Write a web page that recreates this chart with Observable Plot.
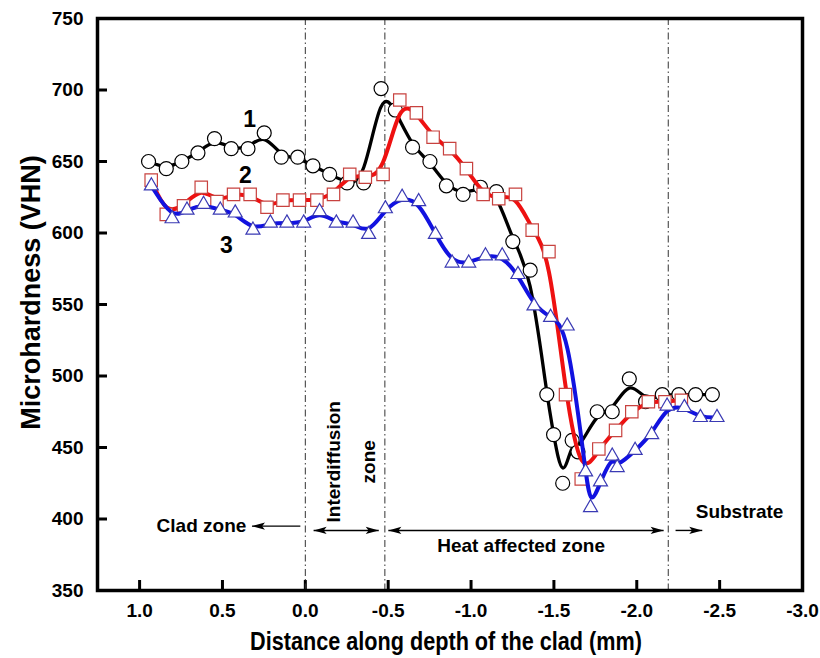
<!DOCTYPE html>
<html>
<head>
<meta charset="utf-8">
<script src="https://cdn.jsdelivr.net/npm/d3@7"></script>
<script src="https://cdn.jsdelivr.net/npm/@observablehq/plot@0.6"></script>
<style>
  html, body { margin: 0; padding: 0; background: white; }
</style>
</head>
<body>
<div id="chart"></div>
<script>
// ---- Data ----
const xTicks = [1.0, 0.5, 0.0, -0.5, -1.0, -1.5, -2.0, -2.5, -3.0];
const yTicks = [350, 400, 450, 500, 550, 600, 650, 700, 750];

// Series 1 (open circles, black line)
const s1X = [0.946, 0.839, 0.745, 0.648, 0.548, 0.447, 0.346, 0.248, 0.145, 0.046,
  -0.046, -0.147, -0.252, -0.352, -0.457, -0.543, -0.647, -0.752, -0.851, -0.952,
  -1.057, -1.153, -1.252, -1.357, -1.457, -1.498, -1.553, -1.61, -1.645, -1.761,
  -1.852, -1.955, -2.053, -2.154, -2.254, -2.355, -2.456];
const s1Y = [650, 645, 650, 656, 666, 659, 659, 670, 653, 653,
  647, 641, 635, 635, 701, 686, 660, 650, 633, 627,
  632, 629, 594, 574, 487, 459, 425, 455, 447, 475,
  475, 498, 482, 487, 487, 487, 487];

// Series 2 (open squares, red line)
const s2X = [0.93, 0.839, 0.735, 0.628, 0.533, 0.433, 0.333, 0.231, 0.135, 0.035,
  -0.07, -0.17, -0.268, -0.362, -0.469, -0.57, -0.67, -0.771, -0.871, -0.972,
  -1.073, -1.167, -1.268, -1.369, -1.47, -1.57, -1.665, -1.771, -1.872, -1.97,
  -2.07, -2.17, -2.269];
const s2Y = [637, 613, 619, 632, 622, 627, 627, 618, 623, 623,
  623, 627, 641, 639, 641, 693, 684, 667, 659, 645,
  627, 624, 627, 602, 587, 487, 428, 449, 462, 475,
  482, 482, 483];

// Series 3 (open triangles, blue line)
const s3X = [0.929, 0.804, 0.714, 0.614, 0.513, 0.423, 0.316, 0.211, 0.111, 0.01,
  -0.086, -0.187, -0.288, -0.382, -0.483, -0.584, -0.684, -0.785, -0.886, -0.986,
  -1.087, -1.188, -1.283, -1.38, -1.48, -1.58, -1.691, -1.721, -1.781, -1.852,
  -1.882, -1.99, -2.09, -2.183, -2.287, -2.384, -2.484];
const s3Y = [633, 610, 616, 620, 616, 614, 602, 607, 607, 607,
  615, 607, 607, 599, 617, 625, 622, 599, 579, 579,
  584, 584, 571, 549, 541, 535, 433, 408, 426, 444,
  436, 448, 459, 479, 478, 471, 471];

// Zone boundaries (dash-dot vertical lines)
const zoneBounds = [0.0, -0.48, -2.19];

// Series labels
const seriesLabels = ["1", "2", "3"];
const seriesLabelX = [0.336, 0.362, 0.477];
const seriesLabelY = [679, 640, 591];

// Zone annotations
const cladText = ["Clad zone"];
const cladTextX = [0.356];
const cladTextY = [395];
const zoneTexts = ["Heat affected zone", "Substrate"];
const zoneTextX = [-1.302, -2.62];
const zoneTextY = [381, 405];
const interTexts = ["Interdiffusion", "zone"];
const interTextX = [-0.171, -0.382];
const interTextY = [440, 440];

// Arrow shafts and heads
const shaftX1 = [0.03, -0.05, -0.501, -2.234];
const shaftX2 = [0.322, -0.443, -2.162, -2.395];
const shaftY = [395, 392, 392, 392];
const headX = [0.322, -0.05, -0.443, -0.501, -2.162, -2.395];
const headY = [395, 392, 392, 392, 392, 392];
const headDir = ["left", "left", "right", "left", "right", "right"];

const xTitle = "Distance along depth of the clad (mm)";
const yTitle = "Microhardness (VHN)";

// ---- Build tables ----
const s1 = s1X.map((x, i) => ({x, y: s1Y[i]}));
const s2 = s2X.map((x, i) => ({x, y: s2Y[i]}));
const s3 = s3X.map((x, i) => ({x, y: s3Y[i]}));
const labels = seriesLabels.map((t, i) => ({t, x: seriesLabelX[i], y: seriesLabelY[i]}));
const clad = cladText.map((t, i) => ({t, x: cladTextX[i], y: cladTextY[i]}));
const zones = zoneTexts.map((t, i) => ({t, x: zoneTextX[i], y: zoneTextY[i]}));
const inter = interTexts.map((t, i) => ({t, x: interTextX[i], y: interTextY[i]}));
const shafts = shaftX1.map((x1, i) => ({x1, x2: shaftX2[i], y: shaftY[i]}));
const heads = headX.map((x, i) => ({x, y: headY[i], dir: headDir[i]}));

const W = 820, H = 658, ML = 97, MR = 18, MT = 18, MB = 68;
const plotW = W - ML - MR, plotH = H - MT - MB;

const headShape = {
  draw(context, l) {
    const w = 3.6;
    context.moveTo(0, -l);
    context.lineTo(w, 0);
    context.lineTo(0, -l * 0.22);
    context.lineTo(-w, 0);
    context.closePath();
  }
};

const font = "Arial, 'Liberation Sans', Helvetica, sans-serif";

const chart = Plot.plot({
  width: W,
  height: H,
  marginLeft: ML,
  marginRight: MR,
  marginTop: MT,
  marginBottom: MB,
  style: {fontFamily: font, fontWeight: "bold", fontSize: "19px", background: "white", color: "black", overflow: "visible"},
  x: {domain: [1.254, -3.0]},
  y: {domain: [350, 750]},
  marks: [
    Plot.axisX(xTicks, {tickSize: 0, tickPadding: 13, tickFormat: d => d.toFixed(1), fontSize: 19, fontWeight: "bold", label: null}),
    Plot.axisY(yTicks, {tickSize: 0, tickPadding: 14, tickFormat: d => String(d), fontSize: 19, fontWeight: "bold", label: null}),
    Plot.tickX(xTicks, {x: d => d, insetTop: plotH - 10, strokeWidth: 3, stroke: "black"}),
    Plot.tickY(yTicks, {y: d => d, insetRight: plotW - 10, strokeWidth: 3, stroke: "black"}),
    Plot.ruleX(zoneBounds, {x: d => d, stroke: "#333", strokeWidth: 1, strokeDasharray: "7,3,1.5,3"}),
    // series 1
    Plot.line(s1, {x: "x", y: "y", curve: "basis", stroke: "black", strokeWidth: 3.3}),
    Plot.dot(s1, {x: "x", y: "y", r: 7, fill: "white", stroke: "black", strokeWidth: 1.2}),
    // series 2
    Plot.line(s2, {x: "x", y: "y", curve: "basis", stroke: "#ee1111", strokeWidth: 4}),
    Plot.dot(s2, {x: "x", y: "y", symbol: "square", r: 7, fill: "white", stroke: "#c8423f", strokeWidth: 1.2}),
    // series 3
    Plot.line(s3, {x: "x", y: "y", curve: "basis", stroke: "#1212e0", strokeWidth: 4}),
    Plot.dot(s3, {x: "x", y: "y", symbol: "triangle", r: 5.2, fill: "white", stroke: "#3a3ab4", strokeWidth: 1.2}),
    // labels
    Plot.text(labels, {x: "x", y: "y", text: "t", fontSize: 23, fontWeight: "bold", fill: "black"}),
    Plot.text(clad, {x: "x", y: "y", text: "t", textAnchor: "end", fontSize: 19, fontWeight: "bold", fill: "black"}),
    Plot.text(zones, {x: "x", y: "y", text: "t", textAnchor: "middle", fontSize: 19, fontWeight: "bold", fill: "black"}),
    Plot.text(inter, {x: "x", y: "y", text: "t", rotate: -90, textAnchor: "middle", fontSize: 19, fontWeight: "bold", fill: "black"}),
    Plot.link(shafts, {x1: "x1", x2: "x2", y1: "y", y2: "y", stroke: "black", strokeWidth: 1.4}),
    Plot.vector(heads, {x: "x", y: "y", rotate: d => d.dir === "left" ? -90 : 90, length: 13, anchor: "end", shape: headShape, fill: "black", stroke: "none"}),
    // axis titles
    Plot.text([xTitle], {text: d => d, frameAnchor: "bottom", textAnchor: "middle", lineAnchor: "middle", dy: 51, dx: -4, fontSize: 25, fontWeight: "bold", fill: "black"}),
    Plot.text([yTitle], {text: d => d, frameAnchor: "left", textAnchor: "middle", lineAnchor: "middle", rotate: -90, dx: -66, dy: -12, fontSize: 27, fontWeight: "bold", fill: "black"}),
    Plot.frame({stroke: "black", strokeWidth: 3.5})
  ]
});
// condense the x title glyphs as in the reference
chart.querySelectorAll("text").forEach(t => {
  if (t.textContent === xTitle) {
    t.setAttribute("textLength", "392");
    t.setAttribute("lengthAdjust", "spacingAndGlyphs");
  }
});
document.getElementById("chart").appendChild(chart);
</script>
</body>
</html>
